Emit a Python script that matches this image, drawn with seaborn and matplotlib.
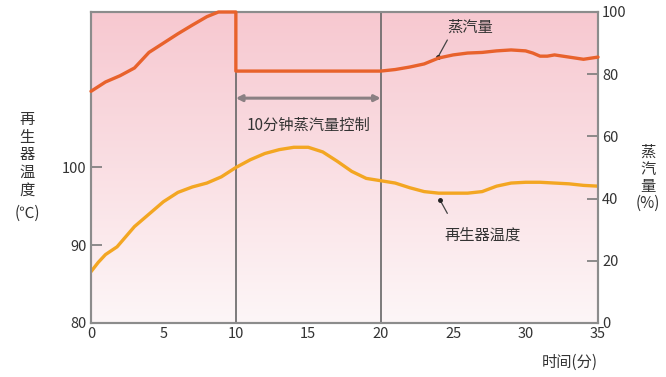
import numpy as np
import matplotlib
matplotlib.use("Agg")
import matplotlib.pyplot as plt
import seaborn as sns
from matplotlib.colors import LinearSegmentedColormap

sns.set_style("white")
plt.rcParams['font.family'] = ['Noto Sans CJK SC', 'DejaVu Sans']

# steam amount (%), right axis; the step at 10 min is a vertical drop
steam_time = [0, 1, 2, 3, 4, 5, 6, 7, 8, 8.8, 10, 10, 12, 14, 16, 18, 20, 21, 22, 23,
              24, 25, 26, 27, 28, 29, 30, 30.5, 31, 31.5, 32, 33, 34, 35]
steam_pct = [74.5, 77.5, 79.5, 82, 87, 90, 93, 95.8, 98.5, 100, 100, 81, 81, 81, 81, 81, 81,
             81.5, 82.3, 83.3, 85.2, 86.2, 86.8, 87, 87.5, 87.8, 87.5, 86.8, 85.8, 85.8,
             86.2, 85.5, 84.8, 85.5]

# regenerator temperature (deg C), left axis
temp_time = [0, 0.5, 1, 1.8, 3, 4, 5, 6, 7, 8, 9, 10, 11, 12, 13, 14, 15, 16, 17, 18,
             19, 20, 21, 22, 23, 24, 25, 26, 27, 28, 29, 30, 31, 32, 33, 34, 35]
temp_c = [86.6, 87.8, 88.8, 89.8, 92.4, 94, 95.6, 96.8, 97.5, 98, 98.8, 100, 101, 101.8,
          102.3, 102.6, 102.6, 102, 100.8, 99.5, 98.6, 98.3, 98, 97.4, 96.9, 96.7, 96.7,
          96.7, 96.9, 97.6, 98, 98.1, 98.1, 98, 97.9, 97.7, 97.6]

x_ticks = [0, 5, 10, 15, 20, 25, 30, 35]
temp_ticks = [80, 90, 100]
steam_ticks = [0, 20, 40, 60, 80, 100]
control_start, control_end = 10, 20

fig = plt.figure(figsize=(6.66, 3.77), dpi=100, facecolor='white')
ax = fig.add_axes([91 / 666, 1 - 323 / 377, 507 / 666, 311 / 377])
ax2 = ax.twinx()

# pink gradient background
grad = np.linspace(0, 1, 256).reshape(-1, 1)
bg_cmap = LinearSegmentedColormap.from_list('bg', ['#fdf6f7', '#f7c8d0'])
ax.imshow(grad, cmap=bg_cmap, origin='lower', aspect='auto',
          extent=[0, 35, 80, 120], zorder=0)

ax.set_xlim(0, 35)
ax.set_ylim(80, 120)
ax2.set_ylim(0, 100)

for xv in (control_start, control_end):
    ax.axvline(xv, color='#666666', lw=1.2, zorder=2)

sns.lineplot(x=temp_time, y=temp_c, ax=ax, color='#f3a622', lw=2.4,
             sort=False, estimator=None, zorder=3)
sns.lineplot(x=steam_time, y=steam_pct, ax=ax2, color='#e8622c', lw=2.4,
             sort=False, estimator=None, zorder=3)
for line in ax2.lines:
    line.set_clip_on(False)

# double arrow for the 10-minute steam control window
ax2.annotate('', xy=(control_start, 72.3), xytext=(control_end, 72.3),
             arrowprops=dict(arrowstyle='<|-|>,head_length=0.35,head_width=0.18',
                             color='#8a8083', lw=2.2, shrinkA=0, shrinkB=0))
ax2.text(15, 63.7, '10分钟蒸汽量控制', ha='center', va='center',
         fontsize=11, color='#333333')

# line labels with pointers
ax2.plot([24.6, 23.95], [91, 85.5], color='#444444', lw=0.9)
ax2.plot([23.95], [85.5], 'o', color='#222222', ms=2.5)
ax2.text(26.2, 95.2, '蒸汽量', ha='center', va='center', fontsize=11, color='#333333')
ax.plot([24.6, 24.1], [94.1, 95.8], color='#444444', lw=0.9)
ax.plot([24.1], [95.8], 'o', color='#222222', ms=2.5)
ax.text(27.05, 91.3, '再生器温度', ha='center', va='center', fontsize=11, color='#333333')

ax.set_xticks(x_ticks)
ax.set_yticks(temp_ticks)
ax2.set_yticks(steam_ticks)
tick_kw = dict(direction='in', length=8, width=1.2, color='#7a7a7a',
               labelsize=10.5, labelcolor='#333333', pad=3)
ax.tick_params(axis='both', **tick_kw)
ax2.tick_params(axis='y', **tick_kw)

for a in (ax, ax2):
    for sp in a.spines.values():
        sp.set_color('#8c8c8c')
        sp.set_linewidth(1.5)

fig.text(27 / 666, 1 - 155 / 377, '再\n生\n器\n温\n度', ha='center', va='center',
         fontsize=11, color='#333333', linespacing=1.05)
fig.text(27 / 666, 1 - 213 / 377, '(℃)', ha='center', va='center',
         fontsize=11, color='#333333')
fig.text(648 / 666, 1 - 178 / 377, '蒸\n汽\n量\n(%)', ha='center', va='center',
         fontsize=11, color='#333333', linespacing=1.0)
fig.text(598 / 666, 1 - 362 / 377, '时间(分)', ha='right', va='center',
         fontsize=11, color='#333333')

fig.savefig('out.png', dpi=100, facecolor='white')
